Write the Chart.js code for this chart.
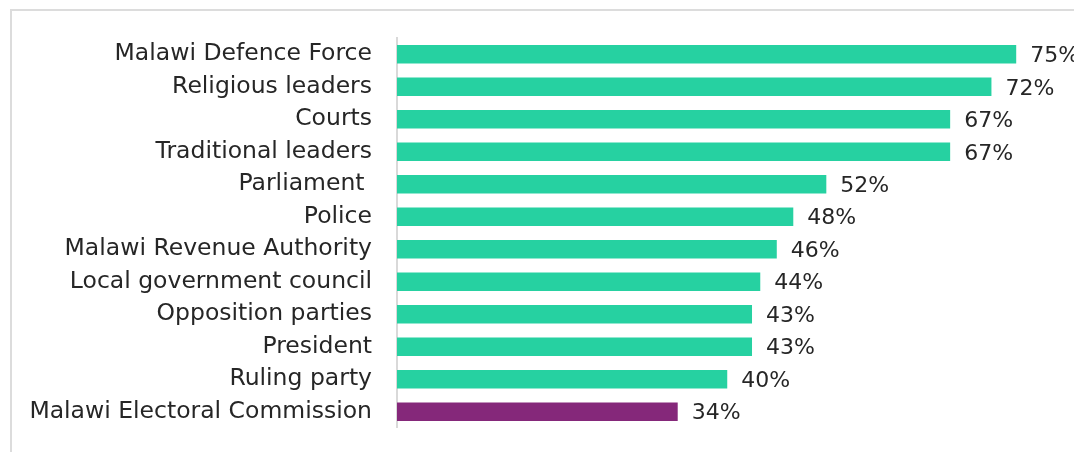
<!DOCTYPE html>
<html>
<head>
<meta charset="utf-8">
<script src="https://cdn.jsdelivr.net/npm/chart.js@4"></script>
<style>
    html, body { margin: 0; padding: 0; background: #fff; overflow: hidden; }
    #frame { position: absolute; left: 10px; top: 9px; width: 1200px; height: 600px; border: 2px solid #dcdcdc; }
    #chart { position: absolute; left: 0; top: 7px; }
</style>
</head>
<body>
<div id="frame"></div>
<canvas id="chart" width="1074" height="452"></canvas>
<script>
const institutions = [
    "Malawi Defence Force", "Religious leaders", "Courts", "Traditional leaders",
    "Parliament ", "Police", "Malawi Revenue Authority", "Local government council",
    "Opposition parties", "President", "Ruling party", "Malawi Electoral Commission"
];
const trustPct = [75, 72, 67, 67, 52, 48, 46, 44, 43, 43, 40, 34];
const highlight = "Malawi Electoral Commission";

const green = "#26d1a1";
const purple = "#85287a";
const font = "'DejaVu Sans', sans-serif";

const valueLabels = {
    id: "valueLabels",
    afterDatasetsDraw(chart) {
        const ctx = chart.ctx;
        const meta = chart.getDatasetMeta(0);
        ctx.save();
        ctx.font = "22px " + font;
        ctx.fillStyle = "#262626";
        ctx.textBaseline = "middle";
        ctx.textAlign = "left";
        meta.data.forEach((bar, i) => {
            ctx.fillText(trustPct[i] + "%", bar.x + 14, bar.y + 2);
        });
        ctx.restore();
    }
};

new Chart(document.getElementById("chart"), {
    type: "bar",
    data: {
        labels: institutions,
        datasets: [{
            data: trustPct,
            backgroundColor: institutions.map(n => n === highlight ? purple : green),
            barPercentage: 0.57,
            categoryPercentage: 1
        }]
    },
    options: {
        indexAxis: "y",
        responsive: false,
        animation: false,
        layout: { padding: { top: 24, bottom: 7, left: 0, right: 0 } },
        plugins: {
            legend: { display: false },
            tooltip: { enabled: false }
        },
        scales: {
            x: { display: false, min: 0, max: 82 },
            y: {
                grid: { display: false },
                border: { display: true, color: "#d9d9d9", width: 2 },
                ticks: {
                    color: "#262626",
                    padding: 17,
                    font: { family: font, size: 23.5 }
                },
                afterFit: axis => { axis.width = 397; }
            }
        }
    },
    plugins: [valueLabels]
});
</script>
</body>
</html>
